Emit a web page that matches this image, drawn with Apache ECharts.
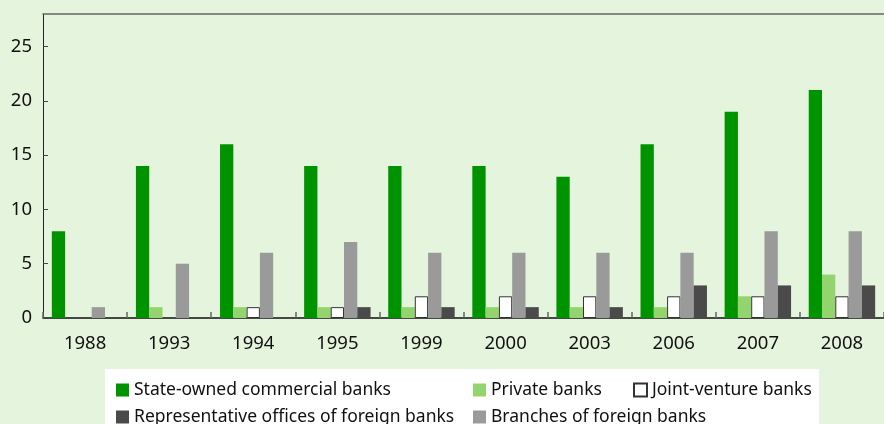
<!DOCTYPE html>
<html>
<head>
<meta charset="utf-8">
<script src="https://cdn.jsdelivr.net/npm/echarts@6/dist/echarts.min.js"></script>
<style>
  html, body { margin: 0; padding: 0; background: #e5f4dc; }
  #chart { width: 884px; height: 424px; }
</style>
</head>
<body>
<div id="chart"></div>
<script>
// Number of banking institutions by type and year
const years = ['1988', '1993', '1994', '1995', '1999', '2000', '2003', '2006', '2007', '2008'];
const stateOwned      = [8, 14, 16, 14, 14, 14, 13, 16, 19, 21];
const privateBanks    = [0, 1, 1, 1, 1, 1, 1, 1, 2, 4];
const jointVenture    = [0, 0, 1, 1, 2, 2, 2, 2, 2, 2];
const foreignBranches = [1, 5, 6, 7, 6, 6, 6, 6, 8, 8];
const foreignReps     = [0, 0, 0, 1, 1, 1, 1, 3, 3, 3];
const yTicks = [0, 5, 10, 15, 20, 25];

const names = {
  state: 'State-owned commercial banks',
  priv: 'Private banks',
  joint: 'Joint-venture banks',
  rep: 'Representative offices of foreign banks',
  branch: 'Branches of foreign banks'
};

const font = '"Noto Sans", "Open Sans", sans-serif';
const chart = echarts.init(document.getElementById('chart'));

// a zero count draws no bar at all
const bars = values => values.map(v => (v === 0 ? null : v));

function legendItem(name, left, top) {
  return {
    data: [name],
    left: left,
    top: top,
    orient: 'horizontal',
    icon: 'rect',
    itemWidth: 13,
    itemHeight: 13,
    padding: 0,
    selectedMode: false,
    textStyle: { fontFamily: font, fontSize: 17.5, color: '#111' }
  };
}

function barSeries(name, values, color, extra) {
  return Object.assign({
    name: name,
    type: 'bar',
    data: bars(values),
    barGap: '0%',
    barCategoryGap: '21%',
    itemStyle: { color: color },
    emphasis: { disabled: true }
  }, extra || {});
}

chart.setOption({
  backgroundColor: '#e5f4dc',
  animation: false,
  grid: { left: 43, right: 0, top: 14, bottom: 106 },
  graphic: [{
    type: 'rect',
    z: 0,
    shape: { x: 105, y: 369, width: 714, height: 60 },
    style: { fill: '#ffffff' }
  }],
  legend: [
    legendItem(names.state, 116, 381),
    legendItem(names.priv, 473, 381),
    legendItem(names.joint, 633, 381),
    legendItem(names.rep, 116, 408),
    legendItem(names.branch, 473, 408)
  ],
  xAxis: [{
    type: 'category',
    data: years,
    axisLine: { lineStyle: { color: '#111', width: 1.5 } },
    axisTick: { show: true, inside: true, length: 6, lineStyle: { color: '#666', width: 1.5 } },
    axisLabel: { fontFamily: font, fontSize: 18.5, color: '#111', margin: 16 }
  }, {
    type: 'category',
    data: years,
    position: 'top',
    axisLine: { show: true, lineStyle: { color: '#666', width: 1.5 } },
    axisTick: { show: false },
    axisLabel: { show: false }
  }],
  yAxis: {
    type: 'value',
    min: 0,
    max: 28,
    interval: 5,
    splitLine: { show: false },
    axisLine: { show: true, lineStyle: { color: '#222', width: 1 } },
    axisTick: { show: true, inside: true, length: 5, lineStyle: { color: '#444' }, customValues: yTicks },
    axisLabel: { fontFamily: font, fontSize: 18.5, color: '#111', margin: 11, customValues: yTicks }
  },
  series: [
    barSeries(names.state, stateOwned, '#009300'),
    barSeries(names.priv, privateBanks, '#93d46f'),
    barSeries(names.joint, jointVenture, '#ffffff', {
      itemStyle: { color: '#ffffff', borderColor: '#333333', borderWidth: 1 }
    }),
    barSeries(names.branch, foreignBranches, '#9a9a9a'),
    barSeries(names.rep, foreignReps, '#4a4a4a')
  ]
});
</script>
</body>
</html>
